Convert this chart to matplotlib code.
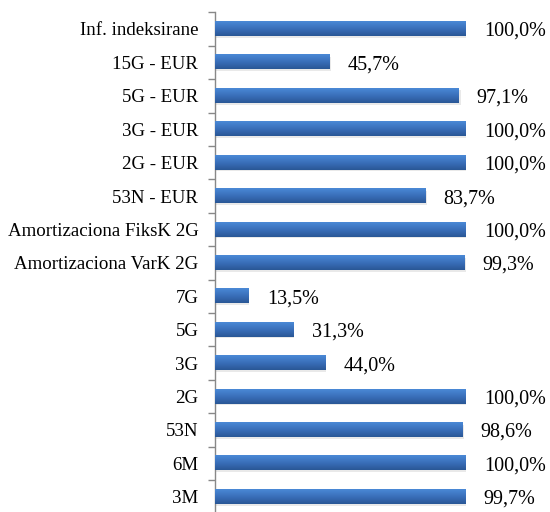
import numpy as np
import matplotlib
matplotlib.use("Agg")
import matplotlib.pyplot as plt
from matplotlib.colors import LinearSegmentedColormap

# Podaci sa grafika (od vrha ka dnu)
kategorije = ["Inf. indeksirane", "15G - EUR", "5G - EUR", "3G - EUR", "2G - EUR",
              "53N - EUR", "Amortizaciona FiksK 2G", "Amortizaciona VarK 2G",
              "7G", "5G", "3G", "2G", "53N", "6M", "3M"]
vrijednosti = [100.0, 45.7, 97.1, 100.0, 100.0, 83.7, 100.0, 99.3,
               13.5, 31.3, 44.0, 100.0, 98.6, 100.0, 99.7]

plt.rcParams["font.family"] = ["Liberation Serif", "DejaVu Serif"]

fig = plt.figure(figsize=(5.5, 5.12), dpi=100)
ax = fig.add_axes([215 / 550, -0.003, (466 - 215) / 550, 0.979])

y = np.arange(len(kategorije))
bars = ax.barh(y, vrijednosti, height=0.42, color="#3b6fb6", zorder=2)

# gradijent + blaga sjenka kao u Excelu
cmap = LinearSegmentedColormap.from_list("plava", ["#4a89d6", "#3a6fba", "#2a5796"])
grad = np.linspace(0, 1, 64).reshape(-1, 1)
for b in bars:
    x0, y0, w, h = b.get_x(), b.get_y(), b.get_width(), b.get_height()
    ax.add_patch(plt.Rectangle((x0, y0 + h * 0.12), w * 1.008, h, color="#d4d4d4",
                               alpha=0.5, zorder=1, lw=0))
    ax.imshow(grad, cmap=cmap, aspect="auto", extent=(x0, x0 + w, y0 + h, y0),
              zorder=3)

for yi, v in zip(y, vrijednosti):
    ax.annotate(f"{v:.1f}%".replace(".", ","), (v, yi), xytext=(13, 0),
                textcoords="offset points", va="center_baseline", ha="left",
                fontsize=14.5)

ax.set_xlim(0, 100)
ax.set_ylim(len(kategorije) - 0.5, -0.5)
ax.set_yticks(y)
ax.set_yticklabels(kategorije, fontsize=13.6, va="center_baseline")
ax.set_yticks(np.arange(-0.5, len(kategorije)), minor=True)
ax.tick_params(axis="y", which="major", length=0, pad=12)
ax.tick_params(axis="y", which="minor", length=5, color="#888888", width=1)
ax.set_xticks([])
for s in ["top", "right", "bottom"]:
    ax.spines[s].set_visible(False)
ax.spines["left"].set_color("#888888")
ax.spines["left"].set_linewidth(1)
ax.patch.set_alpha(0)

fig.savefig("out.png", dpi=100)
